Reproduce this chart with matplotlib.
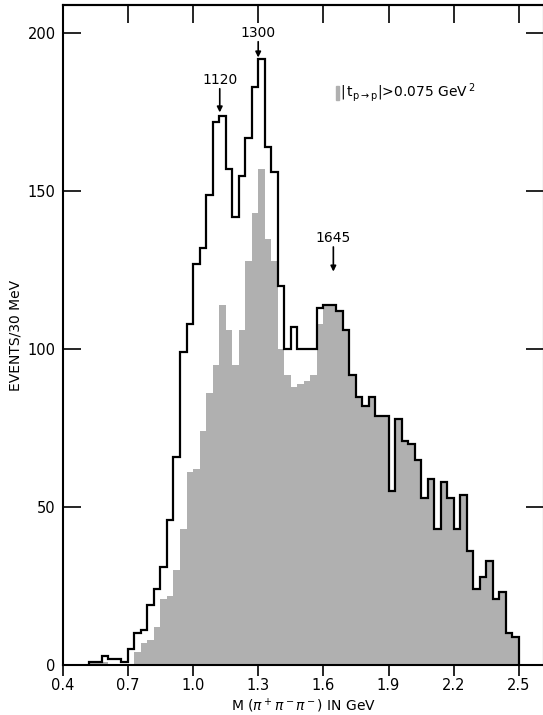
#3-pion mass spectrum, all events (outline) and |t|>0.075 (shaded)
import numpy as np
import matplotlib.pyplot as plt
from matplotlib.patches import Rectangle

# bin edges, 30 MeV bins from 0.52 to 2.50 GeV
edges = np.round(np.linspace(0.52, 2.50, 67), 2)

# events per bin, all t
all_events = [1, 1, 3, 2, 2, 1, 5, 10, 11, 19,
              24, 31, 46, 66, 99, 108, 127, 132, 149, 172,
              174, 157, 142, 155, 167, 183, 192, 164, 156, 120,
              100, 107, 100, 100, 100, 113, 114, 114, 112, 106,
              92, 85, 82, 85, 79, 79, 55, 78, 71, 70,
              65, 53, 59, 43, 58, 53, 43, 54, 36, 24,
              28, 33, 21, 23, 10, 9]

# events per bin, |t| > 0.075 GeV^2
large_t = [1, 1, 1, 0, 0, 0, 0, 4, 7, 8,
           12, 21, 22, 30, 43, 61, 62, 74, 86, 95,
           114, 106, 95, 106, 128, 143, 157, 135, 128, 100,
           92, 88, 89, 90, 92, 108, 114, 114, 112, 106,
           92, 85, 82, 85, 79, 79, 55, 78, 71, 70,
           65, 53, 59, 43, 58, 53, 43, 54, 36, 24,
           28, 33, 21, 23, 10, 9]

# resonance markers: label, mass (GeV), label height (events)
peak_labels = ['1120', '1300', '1645']
peak_mass = [1.123, 1.30, 1.646]
label_y = [185.4, 200.3, 135.3]

xticks = [0.4, 0.7, 1.0, 1.3, 1.6, 1.9, 2.2, 2.5]
yticks = [0, 50, 100, 150, 200]

plt.rcParams['font.family'] = 'DejaVu Sans'
shade = '#b0b0b0'

fig = plt.figure(figsize=(5.43, 7.15), dpi=100)
ax = fig.add_axes([0.1155, 0.0699, 0.886, 0.923])

ax.stairs(large_t, edges, fill=True, color=shade, zorder=1)
ax.stairs(all_events, edges, color='black', linewidth=1.6, zorder=2)

ax.set_xlim(0.4, 2.615)
ax.set_ylim(0, 209)

ax.set_xticks(xticks)
ax.set_xticklabels(['{:.1f}'.format(t) for t in xticks])
ax.set_yticks(yticks)
ax.tick_params(axis='x', direction='out', length=8, width=1.2, labelsize=10.5, pad=1)
ax.tick_params(axis='y', direction='in', length=13, width=1.2, labelsize=10.5,
               right=True, pad=5)
top = ax.secondary_xaxis('top')
top.set_xticks(xticks)
top.tick_params(direction='in', length=13, width=1.2, labeltop=False)
for s in ax.spines.values():
    s.set_linewidth(1.5)
top.spines['top'].set_linewidth(1.5)

ax.set_xlabel(r'M ($\pi^+\pi^-\pi^-$) IN GeV', fontsize=10, labelpad=3)
ax.set_ylabel('EVENTS/30 MeV', fontsize=10, labelpad=4)

# arrows over the peaks
arrow_len = [7.5, 5.0, 7.8]
for lab, m, yl, al in zip(peak_labels, peak_mass, label_y, arrow_len):
    y0 = yl - 2.9
    ax.annotate('', xy=(m, y0 - al), xytext=(m, y0),
                arrowprops=dict(arrowstyle='-|>', color='black', lw=1.2,
                                mutation_scale=8, shrinkA=0, shrinkB=0))
    ax.text(m, yl, lab, ha='center', va='center', fontsize=10)

# key for shaded histogram
ax.add_patch(Rectangle((1.657, 179), 0.014, 4.5, color=shade))
ax.text(1.678, 181.3, r'$|\,\mathrm{t}_{\mathrm{p\rightarrow p}}|$>0.075 GeV$^{\,2}$',
        fontsize=10, va='center', ha='left')

fig.savefig('out.png', dpi=100)
